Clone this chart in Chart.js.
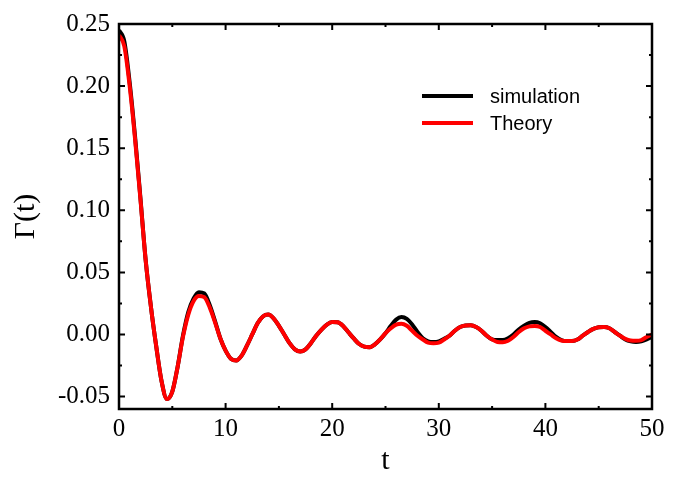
<!DOCTYPE html>
<html>
<head>
<meta charset="utf-8">
<script src="https://cdn.jsdelivr.net/npm/chart.js@4.4.1/dist/chart.umd.min.js"></script>
<style>
  html, body { margin: 0; padding: 0; background: #fff; }
  #wrap { width: 688px; height: 479px; }
</style>
</head>
<body>
<div id="wrap"><canvas id="gammaChart"></canvas></div>
<script>
// time grid, step 0.5
const tValues = [];
for (let i = 0; i <= 100; i++) tValues.push(i * 0.5);

const theory = [
  0.241, 0.232, 0.200, 0.158, 0.110, 0.060, 0.022, -0.010, -0.038, -0.052,
  -0.046, -0.026, -0.002, 0.016, 0.027, 0.031, 0.030, 0.022, 0.010, -0.003,
  -0.013, -0.0195, -0.021, -0.017, -0.009, 0.000, 0.009, 0.0145, 0.016, 0.013,
  0.007, 0.000, -0.007, -0.012, -0.0137, -0.012, -0.007, -0.001, 0.004, 0.008,
  0.010, 0.0098, 0.007, 0.002, -0.003, -0.0075, -0.0098, -0.0102, -0.008, -0.004,
  0.001, 0.005, 0.008, 0.0087, 0.007, 0.003, -0.001, -0.004, -0.0065, -0.007,
  -0.0065, -0.004, -0.001, 0.003, 0.006, 0.0072, 0.0074, 0.006, 0.003, -0.001,
  -0.004, -0.006, -0.0063, -0.005, -0.002, 0.002, 0.005, 0.0065, 0.0069, 0.006,
  0.003, 0.000, -0.003, -0.0048, -0.0053, -0.0052, -0.004, -0.001, 0.002, 0.0045,
  0.0058, 0.006, 0.005, 0.002, -0.001, -0.0035, -0.0048, -0.005, -0.0045, -0.002,
  0.000
];

const simulation = [
  0.245, 0.236, 0.203, 0.160, 0.111, 0.060, 0.022, -0.010, -0.038, -0.052,
  -0.046, -0.026, -0.001, 0.018, 0.029, 0.034, 0.033, 0.024, 0.011, -0.003,
  -0.013, -0.0195, -0.021, -0.017, -0.009, 0.000, 0.009, 0.0145, 0.016, 0.013,
  0.007, 0.000, -0.007, -0.012, -0.0137, -0.012, -0.007, -0.001, 0.004, 0.008,
  0.010, 0.0098, 0.007, 0.002, -0.003, -0.0075, -0.0098, -0.0102, -0.008, -0.004,
  0.001, 0.007, 0.012, 0.014, 0.0125, 0.008, 0.002, -0.003, -0.0055, -0.006,
  -0.0055, -0.0035, -0.001, 0.003, 0.006, 0.0072, 0.0074, 0.006, 0.003, -0.001,
  -0.004, -0.0045, -0.0045, -0.003, 0.000, 0.004, 0.007, 0.0093, 0.010, 0.009,
  0.006, 0.002, -0.002, -0.0045, -0.0053, -0.0052, -0.004, -0.001, 0.002, 0.0045,
  0.0058, 0.006, 0.005, 0.002, -0.001, -0.004, -0.0055, -0.006, -0.0055, -0.004,
  -0.002
];

const xTicks = [0, 10, 20, 30, 40, 50];
const yTicks = [-0.05, 0.00, 0.05, 0.10, 0.15, 0.20, 0.25];

const serif = "'Liberation Serif', 'DejaVu Serif', serif";
const sans = "'Liberation Sans', Arial, sans-serif";

// frame with inward major/minor ticks on all four sides + legend
const framePlugin = {
  id: 'frame',
  afterDraw(chart) {
    const { ctx, chartArea: a, scales } = chart;
    const xs = scales.x, ys = scales.y;
    ctx.save();
    ctx.strokeStyle = '#000';
    ctx.lineWidth = 2.5;
    ctx.strokeRect(a.left, a.top, a.right - a.left, a.bottom - a.top);

    ctx.lineWidth = 2;
    ctx.beginPath();
    for (let v = 0; v <= 50; v += 5) {
      const px = xs.getPixelForValue(v);
      const len = v % 10 === 0 ? 6 : 3;
      ctx.moveTo(px, a.bottom); ctx.lineTo(px, a.bottom - len);
      ctx.moveTo(px, a.top); ctx.lineTo(px, a.top + len);
    }
    for (let k = -2; k <= 10; k++) {
      const v = k * 0.025;
      if (v < ys.min || v > ys.max + 1e-9) continue;
      const py = ys.getPixelForValue(v);
      const len = k % 2 === 0 ? 6 : 3;
      ctx.moveTo(a.left, py); ctx.lineTo(a.left + len, py);
      ctx.moveTo(a.right, py); ctx.lineTo(a.right - len, py);
    }
    ctx.stroke();

    // legend
    const items = [chart.data.datasets[0], chart.data.datasets[1]];
    ctx.font = '20px ' + sans;
    ctx.textBaseline = 'middle';
    items.forEach((ds, i) => {
      const y = 96 + i * 27;
      ctx.strokeStyle = ds.borderColor;
      ctx.lineWidth = 4;
      ctx.beginPath();
      ctx.moveTo(422, y); ctx.lineTo(473, y);
      ctx.stroke();
      ctx.fillStyle = '#000';
      ctx.fillText(ds.label, 490, y + 1);
    });
    ctx.restore();
  }
};

new Chart(document.getElementById('gammaChart'), {
  type: 'line',
  data: {
    labels: tValues,
    datasets: [
      {
        label: 'simulation',
        data: tValues.map((t, i) => ({ x: t, y: simulation[i] })),
        borderColor: '#000000',
        borderWidth: 4,
        pointRadius: 0,
        cubicInterpolationMode: 'monotone',
        order: 2
      },
      {
        label: 'Theory',
        data: tValues.map((t, i) => ({ x: t, y: theory[i] })),
        borderColor: '#ff0000',
        borderWidth: 4,
        pointRadius: 0,
        cubicInterpolationMode: 'monotone',
        order: 1
      }
    ]
  },
  options: {
    responsive: true,
    maintainAspectRatio: false,
    animation: false,
    layout: { padding: { left: 0, top: 16, right: 36, bottom: 0 } },
    plugins: {
      legend: { display: false },
      tooltip: { enabled: false }
    },
    scales: {
      x: {
        type: 'linear',
        min: 0,
        max: 50,
        afterBuildTicks: s => { s.ticks = xTicks.map(v => ({ value: v })); },
        afterFit: s => { s.height = 70; },
        grid: { display: false, drawTicks: false },
        border: { display: false },
        ticks: { color: '#000', font: { family: serif, size: 25 }, padding: 5, maxRotation: 0 },
        title: { display: true, text: 't', color: '#000', font: { family: serif, size: 30 }, padding: { top: 0, bottom: 0 } }
      },
      y: {
        min: -0.06,
        max: 0.25,
        afterBuildTicks: s => { s.ticks = yTicks.map(v => ({ value: v })); },
        afterFit: s => { s.width = 119; },
        grid: { display: false, drawTicks: false },
        border: { display: false },
        ticks: {
          color: '#000', font: { family: serif, size: 25 }, padding: 9,
          callback: v => v.toFixed(2)
        },
        title: { display: true, text: 'Γ(t)', color: '#000', font: { family: serif, size: 30 }, padding: { top: 8, bottom: 0 } }
      }
    }
  },
  plugins: [framePlugin]
});
</script>
</body>
</html>
